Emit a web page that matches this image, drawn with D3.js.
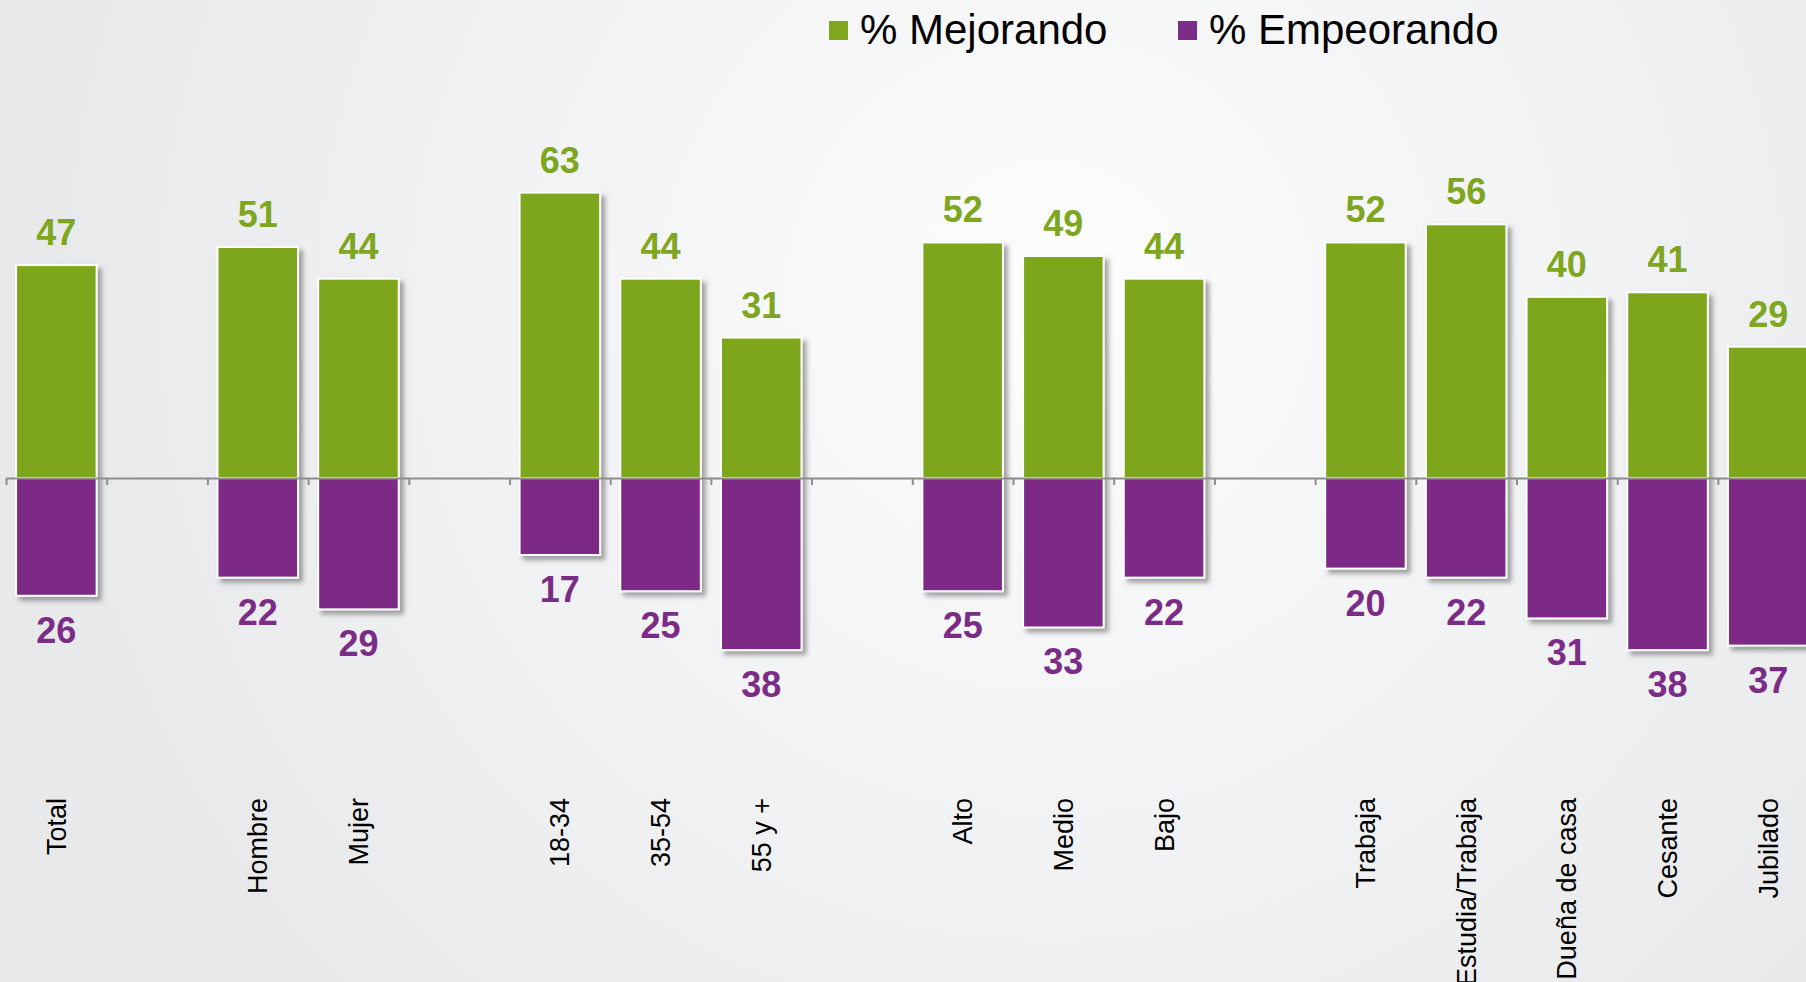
<!DOCTYPE html>
<html>
<head>
<meta charset="utf-8">
<script src="https://cdn.jsdelivr.net/npm/d3@7"></script>
<style>
  html, body { margin: 0; padding: 0; overflow: hidden; }
  body { font-family: "Liberation Sans", Arial, sans-serif; }
</style>
</head>
<body>
<div id="chart"></div>
<script>
// groups of categories, a blank slot is left between groups
var groups = [
    ["Total"],
    ["Hombre", "Mujer"],
    ["18-34", "35-54", "55 y +"],
    ["Alto", "Medio", "Bajo"],
    ["Trabaja", "Estudia/Trabaja", "Dueña de casa", "Cesante", "Jubilado"]
];
var categories = ["Total", "Hombre", "Mujer", "18-34", "35-54", "55 y +", "Alto", "Medio", "Bajo",
    "Trabaja", "Estudia/Trabaja", "Dueña de casa", "Cesante", "Jubilado"];
var mejorando = [47, 51, 44, 63, 44, 31, 52, 49, 44, 52, 56, 40, 41, 29];
var empeorando = [26, 22, 29, 17, 25, 38, 25, 33, 22, 20, 22, 31, 38, 37];
var seriesNames = ["% Mejorando", "% Empeorando"];
var seriesColors = ["#7ea61f", "#7b2c86"];

var width = 1806, height = 982;
var font = "'Liberation Sans', Arial, sans-serif";

var svg = d3.select("#chart").append("svg")
    .attr("width", width)
    .attr("height", height)
    .style("font-family", font);

var defs = svg.append("defs");
var bg = defs.append("radialGradient")
    .attr("id", "bg")
    .attr("gradientUnits", "userSpaceOnUse")
    .attr("cx", 1050).attr("cy", 300).attr("r", 1000);
bg.append("stop").attr("offset", "0%").attr("stop-color", "#fdfdfd");
bg.append("stop").attr("offset", "45%").attr("stop-color", "#f3f4f5");
bg.append("stop").attr("offset", "100%").attr("stop-color", "#e8e9eb");

var shadow = defs.append("filter")
    .attr("id", "shadow")
    .attr("x", "-20%").attr("y", "-20%")
    .attr("width", "150%").attr("height", "150%");
shadow.append("feDropShadow")
    .attr("dx", 4).attr("dy", 4)
    .attr("stdDeviation", 2.5)
    .attr("flood-color", "#555")
    .attr("flood-opacity", 0.55);

svg.append("rect")
    .attr("width", width)
    .attr("height", height)
    .attr("fill", "url(#bg)");

// slot domain, with gap keys between groups
var slots = [];
groups.forEach(function(g, i) {
    if (i > 0) slots.push("gap" + i);
    g.forEach(function(c) { slots.push(c); });
});

var step = 100.7;
var x0 = 6;
var x = d3.scaleBand()
    .domain(slots)
    .range([x0, x0 + step * slots.length])
    .paddingInner(0.2)
    .paddingOuter(0.1);

var y = d3.scaleLinear()
    .domain([-60, 80])
    .range([478 + 60 * 4.53, 478 - 80 * 4.53]);

var data = categories.map(function(c, i) {
    return { cat: c, up: mejorando[i], down: empeorando[i] };
});

var bars = svg.append("g").attr("filter", "url(#shadow)");

bars.selectAll("rect.up")
    .data(data)
    .enter()
    .append("rect")
    .attr("class", "up")
    .attr("x", function(d) { return x(d.cat); })
    .attr("y", function(d) { return y(d.up); })
    .attr("width", x.bandwidth())
    .attr("height", function(d) { return y(0) - y(d.up); })
    .attr("fill", seriesColors[0])
    .attr("stroke", "#fff")
    .attr("stroke-width", 2);

bars.selectAll("rect.down")
    .data(data)
    .enter()
    .append("rect")
    .attr("class", "down")
    .attr("x", function(d) { return x(d.cat); })
    .attr("y", y(0))
    .attr("width", x.bandwidth())
    .attr("height", function(d) { return y(-d.down) - y(0); })
    .attr("fill", seriesColors[1])
    .attr("stroke", "#fff")
    .attr("stroke-width", 2);

// zero axis with ticks on slot boundaries
var xb = d3.scaleLinear()
    .domain([0, slots.length])
    .range([x0, x0 + step * slots.length]);

var axis = svg.append("g")
    .attr("transform", "translate(0," + y(0) + ")")
    .call(d3.axisBottom(xb)
        .tickValues(d3.range(0, slots.length + 1))
        .tickFormat("")
        .tickSize(7)
        .tickSizeOuter(0));
axis.select(".domain").attr("stroke", "#8c8c8c").attr("stroke-width", 2);
axis.selectAll(".tick line").attr("stroke", "#8c8c8c").attr("stroke-width", 2);

// value labels
svg.append("g").selectAll("text")
    .data(data)
    .enter()
    .append("text")
    .attr("x", function(d) { return x(d.cat) + x.bandwidth() / 2; })
    .attr("y", function(d) { return y(d.up) - 20; })
    .attr("text-anchor", "middle")
    .attr("font-family", font)
    .attr("font-size", 36)
    .attr("font-weight", "bold")
    .attr("fill", seriesColors[0])
    .text(function(d) { return d.up; });

svg.append("g").selectAll("text")
    .data(data)
    .enter()
    .append("text")
    .attr("x", function(d) { return x(d.cat) + x.bandwidth() / 2; })
    .attr("y", function(d) { return y(-d.down) + 47; })
    .attr("text-anchor", "middle")
    .attr("font-family", font)
    .attr("font-size", 36)
    .attr("font-weight", "bold")
    .attr("fill", seriesColors[1])
    .text(function(d) { return d.down; });

// category labels, rotated
svg.append("g").selectAll("text")
    .data(categories)
    .enter()
    .append("text")
    .attr("transform", function(d) {
        return "translate(" + (x(d) + x.bandwidth() / 2 + 9.5) + ",798) rotate(-90)";
    })
    .attr("text-anchor", "end")
    .attr("font-family", font)
    .attr("font-size", 27)
    .attr("fill", "#000")
    .text(function(d) { return d; });

// legend
var legendX = [829, 1178];
var legend = svg.append("g").selectAll("g")
    .data(seriesNames)
    .enter()
    .append("g")
    .attr("transform", function(d, i) { return "translate(" + legendX[i] + ",0)"; });
legend.append("rect")
    .attr("x", 0).attr("y", 21)
    .attr("width", 19).attr("height", 19)
    .attr("fill", function(d, i) { return seriesColors[i]; });
legend.append("text")
    .attr("x", 31).attr("y", 44)
    .attr("font-family", font)
    .attr("font-size", 42)
    .attr("fill", "#000")
    .text(function(d) { return d; });
</script>
</body>
</html>
